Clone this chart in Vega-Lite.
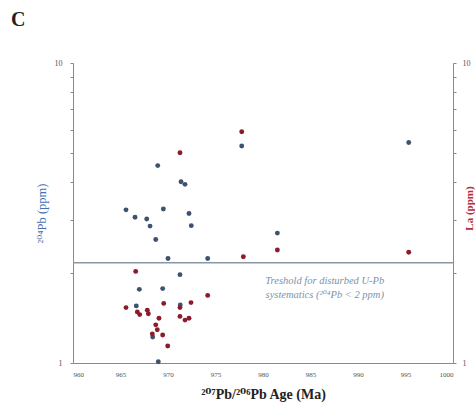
{
  "$schema": "https://vega.github.io/schema/vega-lite/v6.json",
  "width": 380,
  "height": 300,
  "autosize": "none",
  "padding": {"left": 73, "top": 63, "right": 22, "bottom": 50},
  "background": "white",
  "config": {
    "view": {"stroke": null},
    "font": "Liberation Serif, DejaVu Serif",
    "axis": {"grid": false, "domainColor": "#8a8a8a", "tickColor": "#8a8a8a", "labelFont": "Liberation Serif", "titleFont": "Liberation Serif, DejaVu Serif", "labelColor": "#555", "labelFontSize": 8}
  },
  "title": {"text": "C", "anchor": "start", "frame": "group", "dx": -62, "offset": 29, "fontSize": 20, "font": "Liberation Serif", "fontWeight": "bold", "color": "#222"},
  "datasets": {
    "pb": [
      {"age": 968.92, "ppm": 4.55}, {"age": 971.37, "ppm": 4.02}, {"age": 971.79, "ppm": 3.94},
      {"age": 965.58, "ppm": 3.24}, {"age": 969.51, "ppm": 3.26}, {"age": 966.53, "ppm": 3.06},
      {"age": 972.21, "ppm": 3.15}, {"age": 967.76, "ppm": 3.02}, {"age": 968.11, "ppm": 2.86},
      {"age": 972.45, "ppm": 2.87}, {"age": 968.71, "ppm": 2.58}, {"age": 970.0, "ppm": 2.23},
      {"age": 974.18, "ppm": 2.23}, {"age": 971.26, "ppm": 1.97}, {"age": 966.98, "ppm": 1.76},
      {"age": 969.44, "ppm": 1.77}, {"age": 966.66, "ppm": 1.55}, {"age": 971.29, "ppm": 1.56},
      {"age": 968.39, "ppm": 1.22}, {"age": 968.98, "ppm": 1.01}, {"age": 977.76, "ppm": 5.29},
      {"age": 995.34, "ppm": 5.43}, {"age": 981.51, "ppm": 2.71}
    ],
    "la": [
      {"age": 971.26, "ppm": 5.02}, {"age": 977.76, "ppm": 5.9}, {"age": 977.93, "ppm": 2.26},
      {"age": 981.51, "ppm": 2.38}, {"age": 995.34, "ppm": 2.34}, {"age": 966.6, "ppm": 2.02},
      {"age": 974.18, "ppm": 1.68}, {"age": 972.42, "ppm": 1.59}, {"age": 969.55, "ppm": 1.58},
      {"age": 965.58, "ppm": 1.53}, {"age": 971.26, "ppm": 1.53}, {"age": 966.77, "ppm": 1.48},
      {"age": 967.02, "ppm": 1.45}, {"age": 967.82, "ppm": 1.5}, {"age": 967.93, "ppm": 1.46},
      {"age": 971.26, "ppm": 1.43}, {"age": 971.79, "ppm": 1.39}, {"age": 972.21, "ppm": 1.41},
      {"age": 969.05, "ppm": 1.41}, {"age": 968.71, "ppm": 1.34}, {"age": 968.87, "ppm": 1.29},
      {"age": 968.35, "ppm": 1.25}, {"age": 969.44, "ppm": 1.24}, {"age": 969.97, "ppm": 1.14}
    ],
    "threshold": [{"ppm": 2.16}],
    "note": [
      {"age": 986.5, "ppm": 1.87, "text": "Treshold for disturbed U-Pb"},
      {"age": 986.5, "ppm": 1.69, "text": "systematics (²⁰⁴Pb < 2 ppm)"}
    ]
  },
  "layer": [
    {
      "layer": [
        {
          "data": {"name": "threshold"},
          "mark": {"type": "rule", "color": "#8a98a6", "strokeWidth": 1.5},
          "encoding": {
            "y": {"field": "ppm", "type": "quantitative", "scale": {"type": "log", "domain": [1, 10], "nice": false}}
          }
        },
        {
          "data": {"name": "pb"},
          "mark": {"type": "point", "filled": true, "size": 24, "color": "#3e5270", "opacity": 1},
          "encoding": {
            "x": {"field": "age", "type": "quantitative", "scale": {"domain": [960, 1000], "nice": false},
              "axis": {"values": [960, 965, 970, 975, 980, 985, 990, 995, 1000], "format": "d", "ticks": false, "labelPadding": 7, "labelFontSize": 7,
                "title": "²⁰⁷Pb/²⁰⁶Pb Age (Ma)", "titleFontSize": 14, "titleFontWeight": "bold", "titleColor": "#222", "titlePadding": 10}},
            "y": {"field": "ppm", "type": "quantitative", "scale": {"type": "log", "domain": [1, 10], "nice": false},
              "axis": {"orient": "left", "values": [1, 2, 3, 4, 5, 6, 7, 8, 9, 10], "tickSize": 3,
                "labelExpr": "datum.value == 1 || datum.value == 10 ? datum.label : ''", "labelPadding": 8,
                "title": "²⁰⁴Pb (ppm)", "titleColor": "#4a6fb0", "titleFontWeight": "normal", "titleFontSize": 12.5, "titlePadding": 6}}
          }
        },
        {
          "data": {"name": "note"},
          "mark": {"type": "text", "font": "Liberation Serif, DejaVu Serif", "fontStyle": "italic", "fontSize": 10.5, "color": "#7b93ad"},
          "encoding": {
            "x": {"field": "age", "type": "quantitative"},
            "y": {"field": "ppm", "type": "quantitative"},
            "text": {"field": "text"}
          }
        }
      ]
    },
    {
      "data": {"name": "la"},
      "mark": {"type": "point", "filled": true, "size": 24, "color": "#8c1c2c", "opacity": 1},
      "encoding": {
        "x": {"field": "age", "type": "quantitative"},
        "y": {"field": "ppm", "type": "quantitative", "scale": {"type": "log", "domain": [1, 10], "nice": false},
          "axis": {"orient": "right", "values": [1, 2, 3, 4, 5, 6, 7, 8, 9, 10], "tickSize": 3,
            "labelExpr": "datum.value == 1 || datum.value == 10 ? datum.label : ''", "labelPadding": 6,
            "title": "La (ppm)", "titleColor": "#b03040", "titleFontWeight": "bold", "titleFontSize": 11,
            "titleAngle": 270, "titleX": 16, "titleY": 145, "titleAlign": "center", "titleBaseline": "middle"}}
      }
    }
  ],
  "resolve": {"scale": {"y": "independent"}}
}
